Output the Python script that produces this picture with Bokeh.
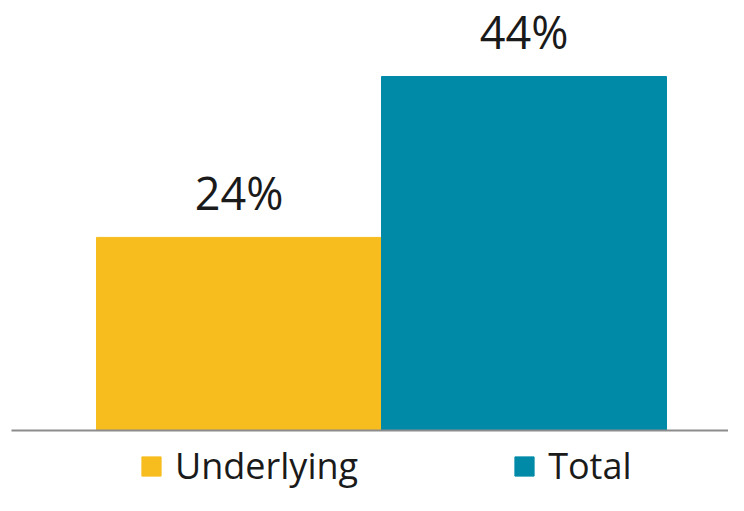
from bokeh.plotting import figure
from bokeh.models import ColumnDataSource, Range1d, Legend, LegendItem
from bokeh.embed import file_html
from bokeh.resources import INLINE
from bokeh.core.properties import value

categories = ["Underlying", "Total"]
values = [24, 44]
labels = ["24%", "44%"]
colors = ["#F7BC1E", "#008AA8"]

W, H = 728, 495
PX_X = 285.0      # pixels per category unit
PX_Y = 8.045      # pixels per percentage point
x0, x1 = -238.5 / PX_X, (W - 238.5) / PX_X
y0, y1 = -(H - 430) / PX_Y, 430 / PX_Y

src = ColumnDataSource(dict(x=[0, 1], top=values, color=colors, label=labels, name=categories))

p = figure(width=W, height=H, output_backend="svg", toolbar_location=None,
           x_range=Range1d(x0, x1), y_range=Range1d(y0, y1),
           min_border=0, outline_line_color=None)
p.axis.visible = False
p.grid.visible = False
p.background_fill_color = "white"

r = p.vbar(x="x", top="top", bottom=0, width=1.0, color="color", source=src)

# baseline (category axis line)
p.segment(x0=[x0 + 11 / PX_X], x1=[x1], y0=[0], y1=[0], line_color="#8c8c8c", line_width=2)

p.text(x="x", y="top", text="label", source=src, text_align="center",
       text_baseline="alphabetic", y_offset=-45, text_font=value("Open Sans"),
       text_font_size="45px", text_color="#1a1a1a")

items = []
for i, c in enumerate(categories):
    items.append(LegendItem(label=c, renderers=[r], index=i))
leg = Legend(items=items, orientation="horizontal", location=(139, 5),
             glyph_width=24, glyph_height=24, label_standoff=12, spacing=154,
             padding=0, margin=0, border_line_alpha=0, background_fill_alpha=0,
             label_text_font="Open Sans", label_text_font_size="36px",
             label_text_color="#1a1a1a")
p.add_layout(leg)

open("out.html", "w").write(file_html(p, INLINE))
